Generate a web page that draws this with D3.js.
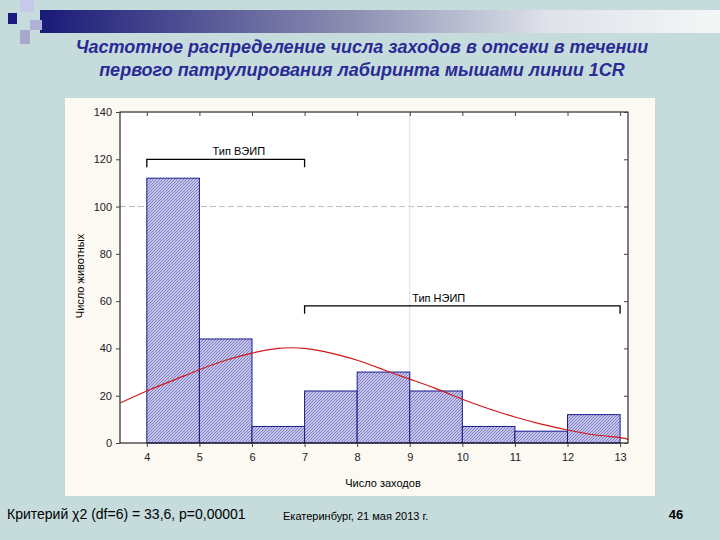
<!DOCTYPE html><html><head><meta charset="utf-8"><script src="https://cdn.jsdelivr.net/npm/d3@7"></script>
<style>body{margin:0}</style></head><body><svg id="c" width="720" height="540"></svg><script>
const binStart=[4,5,6,7,8,9,10,11,12];
const counts=[112,44,7,22,30,22,7,5,12];
const curveX=[3.5,4,4.5,5,5.5,6,6.5,7,7.5,8,8.5,9,9.5,10,10.5,11,11.5,12,12.5,13,13.15];
const curveY=[17,22,26.5,31,35,38,40,40,38,35,31,27,23,18.5,14.5,11,8,5.5,3.5,2.3,1.5];
const xTicks=[4,5,6,7,8,9,10,11,12,13];
const yTicks=[0,20,40,60,80,100,120,140];
const svg=d3.select("#c");
svg.append("rect").attr("width",720).attr("height",540).attr("fill","#c6dcdc");
const defs=svg.append("defs");
const g=defs.append("linearGradient").attr("id","hg");
g.append("stop").attr("offset","0").attr("stop-color","#1a1a78");
g.append("stop").attr("offset","0.45").attr("stop-color","#8a8cb0");
g.append("stop").attr("offset","0.75").attr("stop-color","#dfe3ea");
g.append("stop").attr("offset","1").attr("stop-color","#f4f6f6");
svg.append("rect").attr("x",40).attr("y",10).attr("width",680).attr("height",23).attr("fill","url(#hg)");
svg.append("rect").attr("x",20).attr("y",0).attr("width",14).attr("height",12).attr("fill","#c8c8e8");
svg.append("rect").attr("x",30).attr("y",20).attr("width",12).attr("height",10).attr("fill","#b0b0d8");
svg.append("rect").attr("x",20).attr("y",30).attr("width",10).attr("height",14).attr("fill","#a8a8cc");
svg.append("rect").attr("x",8).attr("y",13).attr("width",9).attr("height",11).attr("fill","#1a1a80");
const pat=defs.append("pattern").attr("id","hatch").attr("width",3).attr("height",3).attr("patternUnits","userSpaceOnUse");
pat.append("rect").attr("width",3).attr("height",3).attr("fill","#c4c4ec");
pat.append("path").attr("d","M0,3L3,0").attr("stroke","#7070b8").attr("stroke-width",0.8);
const title=svg.append("text").attr("text-anchor","middle").attr("font-family","Liberation Sans, Arial").attr("font-style","italic").attr("font-weight","bold").attr("font-size",18).attr("fill","#2a2a96");
title.append("tspan").attr("x",362).attr("y",53).text("Частотное распределение числа заходов в отсеки в течении");
title.append("tspan").attr("x",362).attr("y",76).text("первого патрулирования лабиринта мышами линии 1CR");
svg.append("rect").attr("x",65).attr("y",98).attr("width",590).attr("height",398).attr("fill","#fbf9f2");
const L=120,R=628,T=112,B=443;
svg.append("rect").attr("x",L).attr("y",T).attr("width",R-L).attr("height",B-T).attr("fill","#fff");
const x=d3.scaleLinear().domain([3.49,13.15]).range([L,R]);
const y=d3.scaleLinear().domain([0,140]).range([B,T]);
svg.append("line").attr("x1",L).attr("x2",R).attr("y1",y(100)).attr("y2",y(100)).attr("stroke","#bbb").attr("stroke-dasharray","6,3");
svg.append("line").attr("x1",x(9)).attr("x2",x(9)).attr("y1",T).attr("y2",B).attr("stroke","#ddd");
svg.selectAll(".bar").data(counts).join("rect").attr("x",(d,i)=>x(binStart[i])).attr("width",(d,i)=>x(binStart[i]+1)-x(binStart[i])).attr("y",d=>y(d)).attr("height",d=>B-y(d)).attr("fill","url(#hatch)").attr("stroke","#1a1a8c").attr("stroke-width",1);
svg.append("path").datum(curveX.map((v,i)=>[v,curveY[i]])).attr("d",d3.line().x(d=>x(d[0])).y(d=>y(d[1])).curve(d3.curveNatural)).attr("fill","none").attr("stroke","#d01818").attr("stroke-width",1.2);
svg.append("rect").attr("x",L).attr("y",T).attr("width",R-L).attr("height",B-T).attr("fill","none").attr("stroke","#000");
const fnt="Liberation Sans, Arial";
svg.append("g").attr("transform",`translate(0,${B})`).call(d3.axisBottom(x).tickValues(xTicks).tickSize(4).tickPadding(6));
svg.append("g").attr("transform",`translate(${L},0)`).call(d3.axisLeft(y).tickValues(yTicks).tickSize(4).tickPadding(4));
svg.append("g").attr("transform",`translate(0,${T})`).call(d3.axisBottom(x).tickValues(xTicks).tickSize(4).tickFormat(""));
svg.append("g").attr("transform",`translate(${R},0)`).call(d3.axisLeft(y).tickValues(yTicks).tickSize(4).tickFormat(""));
svg.selectAll(".domain").remove();
svg.selectAll(".tick text").attr("font-family",fnt).attr("font-size",11).attr("fill","#222");
svg.selectAll(".tick line").attr("stroke","#444");
svg.append("text").attr("x",383).attr("y",487).attr("text-anchor","middle").attr("font-family",fnt).attr("font-size",11).text("Число заходов");
svg.append("text").attr("transform","translate(84,276) rotate(-90)").attr("text-anchor","middle").attr("font-family",fnt).attr("font-size",11).text("Число животных");
function bracket(a,b,v,lab,lx){
 svg.append("path").attr("d",`M${x(a)},${y(v)+8}V${y(v)}H${x(b)}V${y(v)+8}`).attr("fill","none").attr("stroke","#000").attr("stroke-width",1.3);
 svg.append("text").attr("x",x(lx)).attr("y",y(v)-4).attr("text-anchor","middle").attr("font-family",fnt).attr("font-size",11).text(lab);
}
bracket(4,7,120,"Тип ВЭИП",5.75);
bracket(7,13,58,"Тип НЭИП",9.55);
svg.append("text").attr("x",7).attr("y",519).attr("font-family",fnt).attr("font-size",14).text("Критерий χ2 (df=6) = 33,6, p=0,00001");
svg.append("text").attr("x",283).attr("y",520).attr("font-family",fnt).attr("font-size",11).text("Екатеринбург, 21 мая 2013 г.");
svg.append("text").attr("x",676).attr("y",519).attr("text-anchor","middle").attr("font-family",fnt).attr("font-weight","bold").attr("font-size",13).text("46");
</script></body></html>
